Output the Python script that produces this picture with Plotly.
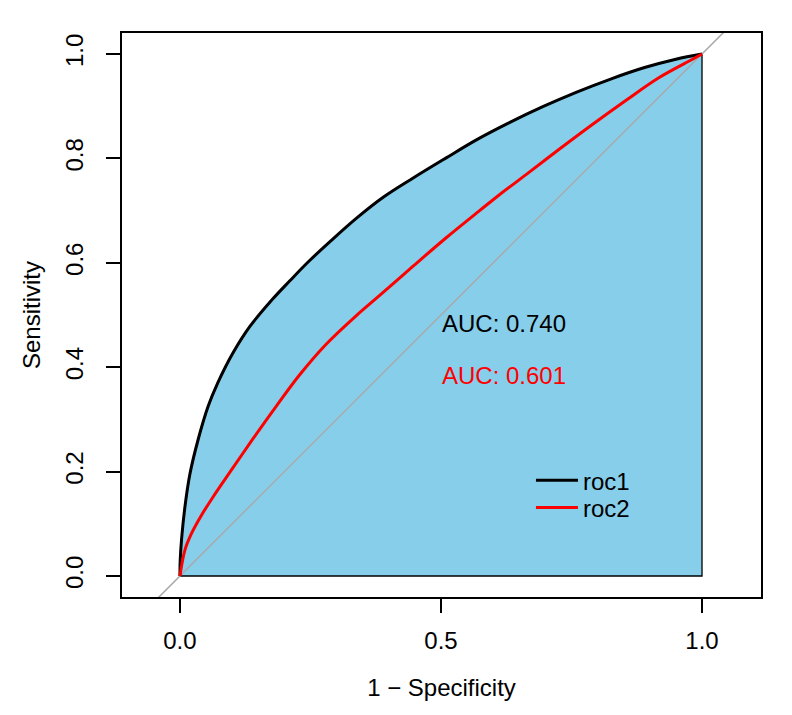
import plotly.graph_objects as go

# roc1 (black)
roc1_fpr = [0.0, 0.0005, 0.003, 0.0096, 0.019, 0.035, 0.054, 0.072, 0.102, 0.134,
            0.178, 0.210, 0.245, 0.290, 0.340, 0.390, 0.446, 0.510, 0.567, 0.630,
            0.695, 0.760, 0.825, 0.890, 0.950, 1.0]
roc1_tpr = [0.0, 0.030, 0.069, 0.133, 0.195, 0.262, 0.325, 0.369, 0.428, 0.478,
            0.531, 0.565, 0.601, 0.643, 0.687, 0.726, 0.762, 0.801, 0.835, 0.868,
            0.899, 0.927, 0.952, 0.974, 0.990, 1.0]

# roc2 (red)
roc2_fpr = [0.0, 0.0096, 0.0224, 0.0415, 0.0625, 0.102, 0.140, 0.185, 0.229, 0.280,
            0.338, 0.382, 0.446, 0.510, 0.574, 0.609, 0.663, 0.727, 0.790, 0.854,
            0.918, 0.981, 1.0]
roc2_tpr = [0.0, 0.050, 0.082, 0.117, 0.150, 0.208, 0.263, 0.326, 0.385, 0.444,
            0.499, 0.537, 0.593, 0.648, 0.700, 0.728, 0.769, 0.818, 0.865, 0.911,
            0.955, 0.9895, 1.0]

curve_names = ["roc1", "roc2"]
auc_values = [0.740, 0.601]
curve_colors = ["black", "red"]

x_ticks = [0.0, 0.5, 1.0]
y_ticks = [0.0, 0.2, 0.4, 0.6, 0.8, 1.0]

x_range = [-0.111, 1.113]
y_range = [-0.0402, 1.0402]

font_family = "Liberation Sans, Arial, sans-serif"

fig = go.Figure()

# area under roc1 (straight edges, the thick curve goes on top)
fig.add_trace(go.Scatter(
    x=roc1_fpr + [1.0, 0.0], y=roc1_tpr + [0.0, 0.0],
    mode="lines", fill="toself", fillcolor="#87CEEB",
    line=dict(color="black", width=1.3),
    showlegend=False, hoverinfo="skip"))

# chance diagonal across the whole panel
fig.add_trace(go.Scatter(
    x=[x_range[0] - 0.2, x_range[1] + 0.2], y=[x_range[0] - 0.2, x_range[1] + 0.2],
    mode="lines", line=dict(color="#A9A9A9", width=1.5),
    showlegend=False, hoverinfo="skip"))

# each curve gets its own legend box so the rows sit like R's legend()
for fpr, tpr, name, col, leg in [(roc1_fpr, roc1_tpr, curve_names[0], curve_colors[0], "legend"),
                                 (roc2_fpr, roc2_tpr, curve_names[1], curve_colors[1], "legend2")]:
    fig.add_trace(go.Scatter(x=fpr, y=tpr, mode="lines", name=name, legend=leg,
                             line=dict(color=col, width=3, shape="spline", smoothing=1.0)))

# AUC labels
for i, (auc, col) in enumerate(zip(auc_values, curve_colors)):
    fig.add_annotation(x=0.5, y=0.5 - 0.1 * i, xref="x", yref="y",
                       text=f"AUC: {auc:.3f}", showarrow=False,
                       xanchor="left", yanchor="top", yshift=7, xshift=-1,
                       font=dict(size=24, color=col, family=font_family))

axis_common = dict(showline=True, linecolor="black", linewidth=2, mirror=True,
                   ticks="outside", ticklen=14, tickwidth=2, tickcolor="black",
                   showgrid=False, zeroline=False, automargin=False,
                   tickfont=dict(size=24, color="black", family=font_family))

fig.update_xaxes(range=x_range, tickvals=x_ticks,
                 ticktext=[f"{v:.1f}" for v in x_ticks],
                 ticklabelstandoff=7,
                 title=dict(text="1 − Specificity", standoff=26,
                            font=dict(size=24, color="black", family=font_family)),
                 **axis_common)
fig.update_yaxes(range=y_range, tickvals=y_ticks,
                 ticktext=[f"{v:.1f}" for v in y_ticks],
                 tickangle=-90, ticklabelstandoff=13,
                 title=dict(text="Sensitivity", standoff=14,
                            font=dict(size=24, color="black", family=font_family)),
                 **axis_common)

legend_style = dict(xanchor="left", yanchor="top", itemwidth=42,
                    bgcolor="rgba(0,0,0,0)", borderwidth=0,
                    font=dict(size=24, color="black", family=font_family))

fig.update_layout(
    width=792, height=715,
    margin=dict(l=114, r=39, t=25, b=126),
    plot_bgcolor="white", paper_bgcolor="white",
    font=dict(family=font_family, size=24, color="black"),
    legend=dict(x=0.64, y=0.246, **legend_style),
    legend2=dict(x=0.64, y=0.198, **legend_style),
)

fig.write_html("out.html")
